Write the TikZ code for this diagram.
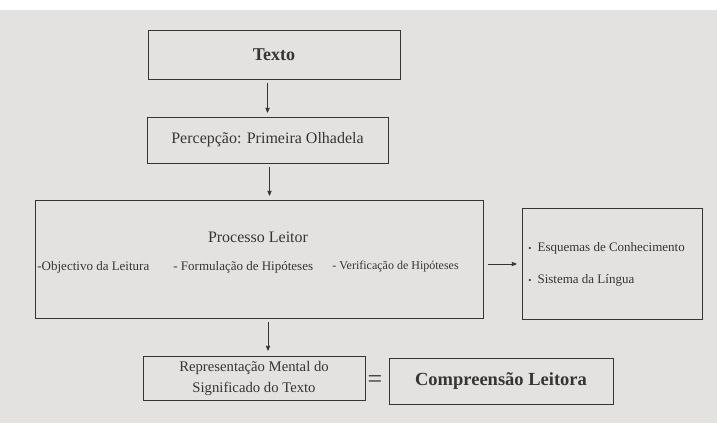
\documentclass[tikz,border=0pt]{standalone}
\usepackage{fontspec}
\setmainfont{Liberation Serif}
\usepackage{xcolor}
\usetikzlibrary{arrows,positioning,fit}
\definecolor{paper}{HTML}{E4E2E0}
\definecolor{ink}{HTML}{353535}
\tikzset{box/.style={rectangle, draw=ink, line width=1pt, inner sep=0pt, text=ink, align=center},
	txt/.style={text=ink, inner sep=0pt}}

\begin{document}
\begin{tikzpicture}[x=1pt, y=-1pt, >=stealth', line width=0.8pt]
	\fill[white] (0,0) rectangle (717,423);
	\fill[paper] (0,10) rectangle (717,423);
	\node[box, minimum width=252pt, minimum height=49pt, font=\fontsize{18}{20}\selectfont\bfseries] (texto) at (274,54.5) {Texto};
	\node[box, minimum width=241pt, minimum height=46pt, font=\fontsize{16}{18}\selectfont] (perc) at (267.5,140) {Percepção: Primeira Olhadela};
	\node[box, minimum width=448pt, minimum height=118pt] (proc) at (259,259) {};
	\node[txt, font=\fontsize{16}{18}\selectfont] (leitor) at (258,237) {Processo Leitor};
	\node[txt, anchor=west, font=\fontsize{13}{15}\selectfont] (obj) at (37,267) {-Objectivo da Leitura};
	\node[txt, anchor=west, font=\fontsize{13}{15}\selectfont] (form) at (173,267) {- Formulação de Hipóteses};
	\node[txt, anchor=west, font=\fontsize{12}{15}\selectfont] (verif) at (332,267) {- Verificação de Hipóteses};
	\node[box, minimum width=180pt, minimum height=111pt] (conh) at (612,263.5) {};
	\node[txt, anchor=west, font=\fontsize{13}{15}\selectfont] (esq) at (528,248) {{\small\textbullet}\hspace{6pt}Esquemas de Conhecimento};
	\node[txt, anchor=west, font=\fontsize{13}{15}\selectfont] (ling) at (528,280) {{\small\textbullet}\hspace{6pt}Sistema da Língua};
	\node[box, minimum width=222pt, minimum height=44pt, font=\fontsize{14.7}{21}\selectfont] (repr) at (254,378) {Representação Mental do\\Significado do Texto};
	\node[txt, font=\fontsize{26}{28}\selectfont] (eq) at (375,382) {=};
	\node[box, minimum width=224pt, minimum height=46pt, font=\fontsize{18.5}{20}\selectfont\bfseries] (compr) at (501,381) {Compreensão Leitora};
	\draw[->, draw=ink, shorten <=3pt, shorten >=4pt] (perc.north |- texto.south) -- (perc.north);
	\draw[->, draw=ink, shorten <=3pt, shorten >=4pt] ([xshift=2pt]perc.south) -- ([xshift=2pt]perc.south |- proc.north);
	\draw[->, draw=ink, shorten <=3pt, shorten >=5pt] ([xshift=9pt]proc.south) -- ([xshift=9pt]proc.south |- repr.north);
	\draw[->, draw=ink, shorten <=4pt, shorten >=5pt] ([yshift=-5pt]proc.east) -- ([yshift=-5pt]proc.east -| conh.west);
\end{tikzpicture}
\end{document}
